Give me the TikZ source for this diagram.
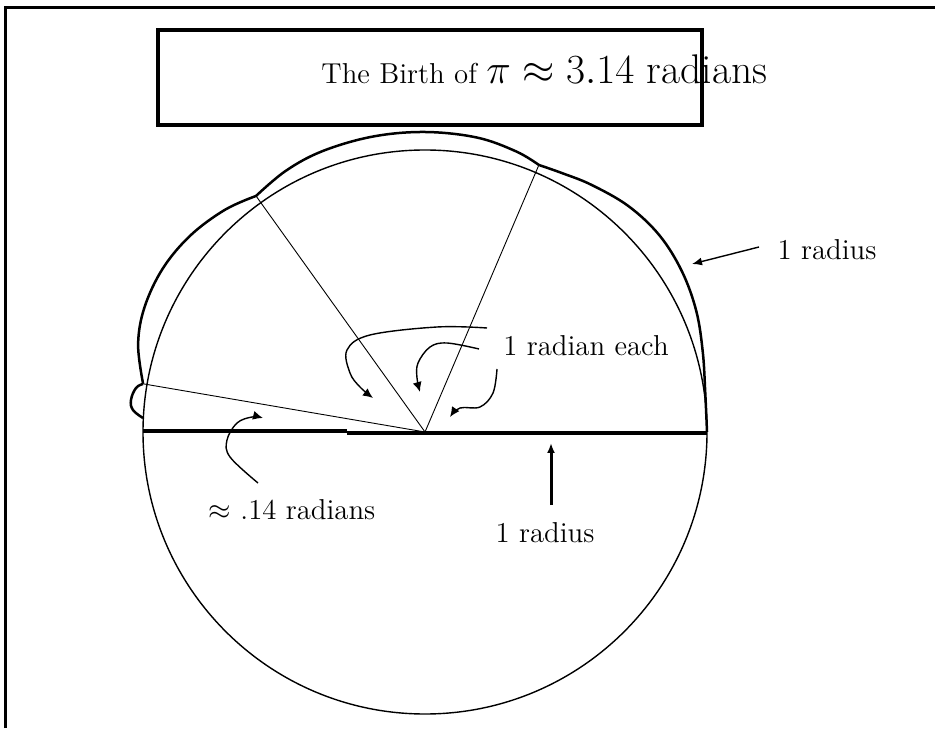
\documentclass[tikz,border=0pt]{standalone}
\usetikzlibrary{arrows.meta}
\tikzset{
  frameline/.style={line width=1.5pt},
  titlebox/.style={draw, line width=2pt, minimum width=272pt, minimum height=47.5pt, inner sep=0pt},
  thincirc/.style={line width=0.7pt},
  radiusline/.style={line width=0.45pt},
  outer/.style={line width=1.25pt},
  diam/.style={line width=1.6pt},
  curvarrow/.style={line width=0.7pt, -{Latex[length=5pt,width=4.5pt]}},
  straightarrow/.style={line width=0.7pt, -{Latex[length=5pt,width=4pt]}},
  thickarrow/.style={line width=1.5pt, -{Latex[length=5pt,width=4pt]}},
  lbl/.style={font=\Large, inner sep=0pt}
}
\begin{document}
\begin{tikzpicture}[x=0.5pt,y=0.5pt]
\useasboundingbox (0,0) rectangle (935,728);
% outer frame (top and left only)
\coordinate (fb) at (5,0);
\coordinate (fc) at (5,720.5);
\coordinate (fr) at (935,720.5);
\draw[frameline] (fb) -- (fc) -- (fr);
% title box
\node[titlebox] (title) at (430,650.5) {};
\node[anchor=base west, inner sep=0pt] (titletext) at (321,644) {\Large The Birth of {\huge $\pi\approx3.14$ radians}};
% circle
\coordinate (C) at (425,296);
\draw[thincirc] (C) circle (282);
% radii
\begin{scope}[shift={(C)}]
  \coordinate (R1) at (66.9:290.3);
  \coordinate (R2) at (125.6:290.3);
  \coordinate (R3) at (170.3:286);
  \draw[radiusline] (0,0) -- (R1);
  \draw[radiusline] (0,0) -- (R2);
  \draw[radiusline] (0,0) -- (R3);
  % outer thick curve (three arcs of one radius each)
  \draw[outer] plot[smooth, tension=0.6] coordinates {(0:282) (8:283) (16:289) (24:297) (32:303) (40:306) (48:304) (56:298) (62:293) (66.9:290.3)};
  \draw[outer] plot[smooth, tension=0.6] coordinates {(66.9:290.3) (72:295) (80:299) (90:300) (100:300) (110:299) (118:296) (125.6:290.3)};
  \draw[outer] plot[smooth, tension=0.6] coordinates {(125.6:290.3) (132:299) (140:306) (148:309) (156:307) (163:300) (170.3:286)};
\end{scope}
% little bump at the end
\draw[outer] plot[smooth, tension=0.7] coordinates {(143,344) (136,340) (131,328) (133,318) (143,310)};
% diameter
\coordinate (D1) at (143,297);
\coordinate (D2) at (347,297);
\coordinate (D3) at (347,295);
\coordinate (D4) at (707,295);
\draw[diam] (D1) -- (D2);
\draw[diam] (D3) -- (D4);
% labels
\node[lbl] (rad1) at (827,478) {1 radius};
\node[lbl] (radeach) at (586,382) {1 radian each};
\node[lbl] (small) at (292,218) {$\approx$ .14 radians};
\node[lbl] (rad2) at (545,195) {1 radius};
% arrows
\coordinate (a1s) at (759,481);
\coordinate (a1e) at (692,464);
\draw[straightarrow] (a1s) -- (a1e);
\coordinate (a2s) at (551,223);
\coordinate (a2e) at (551,285);
\draw[thickarrow] (a2s) -- (a2e);
\draw[curvarrow] plot[smooth, tension=0.6] coordinates {(487,400) (437,401) (370,393) (347,378) (350,355) (360,341) (373,330)};
\draw[curvarrow] plot[smooth, tension=0.6] coordinates {(479,379) (447,385) (430,381) (418,365) (417,350) (420,336)};
\draw[curvarrow] plot[smooth, tension=0.6] coordinates {(497,359) (493,335) (480,321) (460,320) (450,311)};
\draw[curvarrow] plot[smooth, tension=0.6] coordinates {(258,245) (230,271) (227,288) (237,305) (252,311) (263,310)};
\end{tikzpicture}
\end{document}
